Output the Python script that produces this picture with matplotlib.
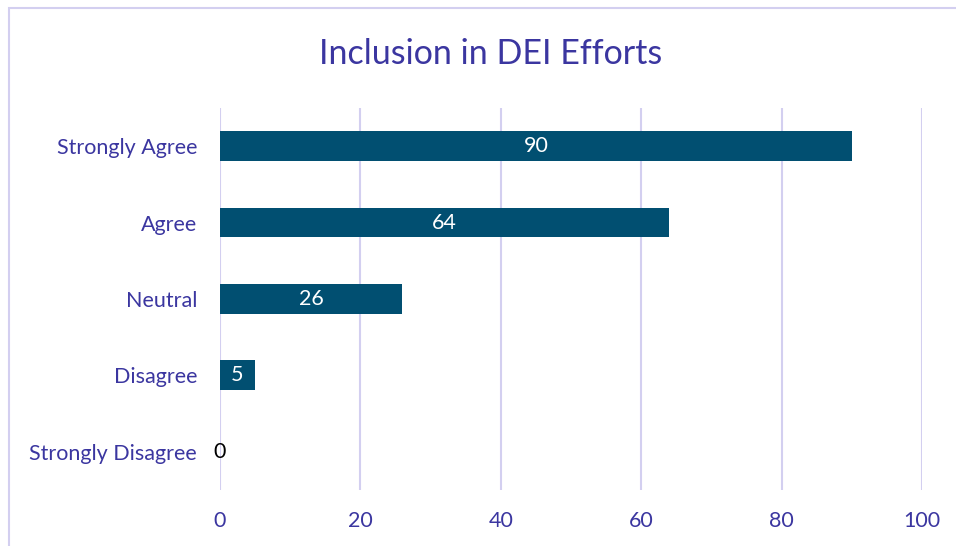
import matplotlib.pyplot as plt
from matplotlib.patches import Rectangle

categories = ['Strongly Disagree', 'Disagree', 'Neutral', 'Agree', 'Strongly Agree']
values = [0, 5, 26, 64, 90]
xticks = [0, 20, 40, 60, 80, 100]

bar_color = '#014F71'
text_color = '#3B36A0'
grid_color = '#D3CFF0'

plt.rcParams['font.family'] = ['Lato', 'DejaVu Sans']

fig = plt.figure(figsize=(9.56, 5.46), dpi=100)
ax = fig.add_axes([0.2301, 0.1026, 0.7343, 0.6996])

y = range(len(categories))
bars = ax.barh(y, values, height=0.39, color=bar_color, zorder=3)

for i, v in enumerate(values):
    ax.text(v / 2, i, str(v), ha='center', va='center', fontsize=15.5,
            color='white' if v > 0 else 'black', zorder=4)

ax.set_xlim(0, 100)
ax.set_ylim(-0.5, len(categories) - 0.5)
ax.set_xticks(xticks)
ax.set_yticks(list(y))
ax.set_yticklabels(categories)
ax.tick_params(axis='both', length=0, labelsize=15.5, labelcolor=text_color)
ax.tick_params(axis='x', pad=15)
ax.tick_params(axis='y', pad=16.5)
ax.grid(axis='x', color=grid_color, linewidth=1.5, zorder=0)
for s in ax.spines.values():
    s.set_visible(False)

fig.text(0.513, 0.902, 'Inclusion in DEI Efforts', ha='center', va='center',
         fontsize=24.5, color=text_color)

# chart frame
fig.patches.append(Rectangle((0.009, -0.1), 1.1, 1.085, transform=fig.transFigure,
                             fill=False, edgecolor=grid_color, linewidth=1.5))

fig.savefig('out.png', dpi=100)
